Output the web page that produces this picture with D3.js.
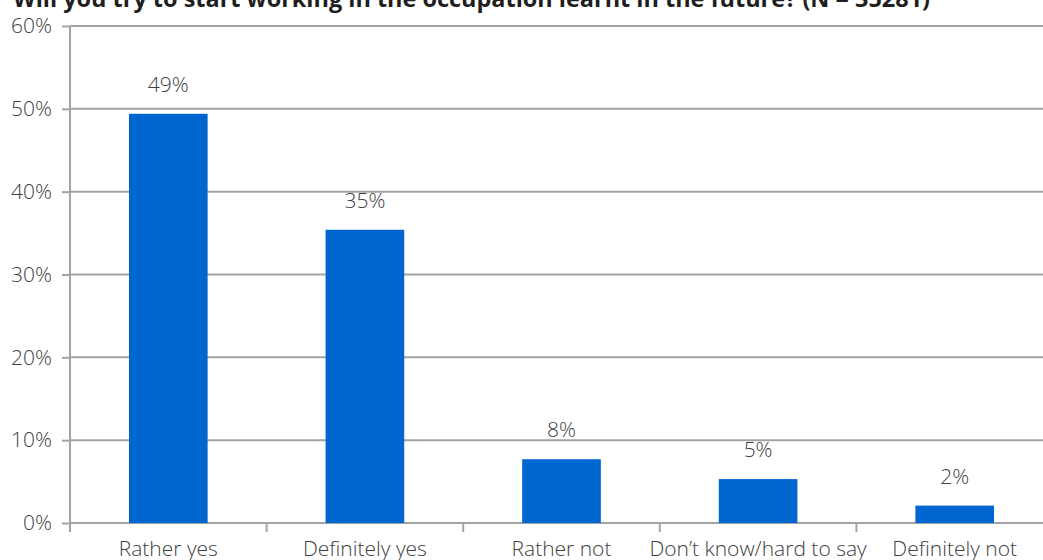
<!DOCTYPE html>
<html>
<head>
<meta charset="utf-8">
<script src="https://cdn.jsdelivr.net/npm/d3@7"></script>
<style>
  html, body { margin: 0; padding: 0; background: #fff; }
  svg { display: block; }
  text { font-family: "Open Sans", "Noto Sans", sans-serif; fill: #404040; }
</style>
</head>
<body>
<svg id="chart" width="1043" height="560"></svg>
<script>
// Survey answers and their shares (%)
const categories = ["Rather yes", "Definitely yes", "Rather not", "Don\u2019t know/hard to say", "Definitely not"];
const shares = [49.4, 35.4, 7.7, 5.3, 2.1];
const yTicks = [0, 10, 20, 30, 40, 50, 60];
const title = "Will you try to start working in the occupation learnt in the future? (N = 35281)";

const svg = d3.select("#chart");
const W = 1043, H = 560;
const plot = { left: 70, right: 1053, top: 26, bottom: 523 };

const x = d3.scaleBand()
  .domain(categories)
  .range([plot.left, plot.right])
  .paddingInner(0.6)
  .paddingOuter(0.3);

const y = d3.scaleLinear()
  .domain([0, 60])
  .range([plot.bottom, plot.top]);

const gridColor = "#a3a3a6";

// Title (runs off the top edge)
svg.append("text")
  .attr("x", 13)
  .attr("y", 7)
  .attr("font-size", 23)
  .attr("font-weight", 700)
  .attr("textLength", 917)
  .attr("lengthAdjust", "spacingAndGlyphs")
  .style("fill", "#1e1e1e")
  .text(title);

// Horizontal gridlines
svg.append("g")
  .selectAll("line")
  .data(yTicks)
  .join("line")
  .attr("x1", plot.left)
  .attr("x2", W)
  .attr("y1", d => y(d))
  .attr("y2", d => y(d))
  .attr("stroke", gridColor)
  .attr("stroke-width", 2);

// Y axis
const yAxis = d3.axisLeft(y)
  .tickValues(yTicks)
  .tickSize(8)
  .tickPadding(10)
  .tickFormat(d => d + "%");

const gy = svg.append("g")
  .attr("transform", `translate(${plot.left},0)`)
  .call(yAxis);
gy.select(".domain").remove();
gy.selectAll(".tick line").attr("stroke", gridColor).attr("stroke-width", 2);
gy.selectAll(".tick text")
  .attr("font-size", 21)
  .attr("font-weight", 300)
  .attr("font-family", null);
svg.append("line")
  .attr("x1", plot.left).attr("x2", plot.left)
  .attr("y1", plot.top).attr("y2", plot.bottom + 9)
  .attr("stroke", gridColor).attr("stroke-width", 2);

// Category separator ticks on the baseline
const separators = categories.slice(1).map(c => x(c) - x.step() * x.paddingInner() / 2);
svg.append("g")
  .selectAll("line")
  .data(separators)
  .join("line")
  .attr("x1", d => d).attr("x2", d => d)
  .attr("y1", plot.bottom).attr("y2", plot.bottom + 9)
  .attr("stroke", gridColor)
  .attr("stroke-width", 2);

// Bars
svg.append("g")
  .selectAll("rect")
  .data(categories)
  .join("rect")
  .attr("x", d => x(d))
  .attr("width", x.bandwidth())
  .attr("y", (d, i) => y(shares[i]))
  .attr("height", (d, i) => y(0) - y(shares[i]))
  .attr("fill", "#0066d0");

// Value labels
svg.append("g")
  .selectAll("text")
  .data(categories)
  .join("text")
  .attr("x", d => x(d) + x.bandwidth() / 2)
  .attr("y", (d, i) => y(shares[i]) - 22)
  .attr("text-anchor", "middle")
  .attr("font-size", 21)
  .attr("font-weight", 300)
  .text((d, i) => Math.round(shares[i]) + "%");

// Category labels
svg.append("g")
  .selectAll("text")
  .data(categories)
  .join("text")
  .attr("x", d => x(d) + x.bandwidth() / 2)
  .attr("y", 556)
  .attr("text-anchor", "middle")
  .attr("font-size", 21)
  .attr("font-weight", 300)
  .text(d => d);
</script>
</body>
</html>
